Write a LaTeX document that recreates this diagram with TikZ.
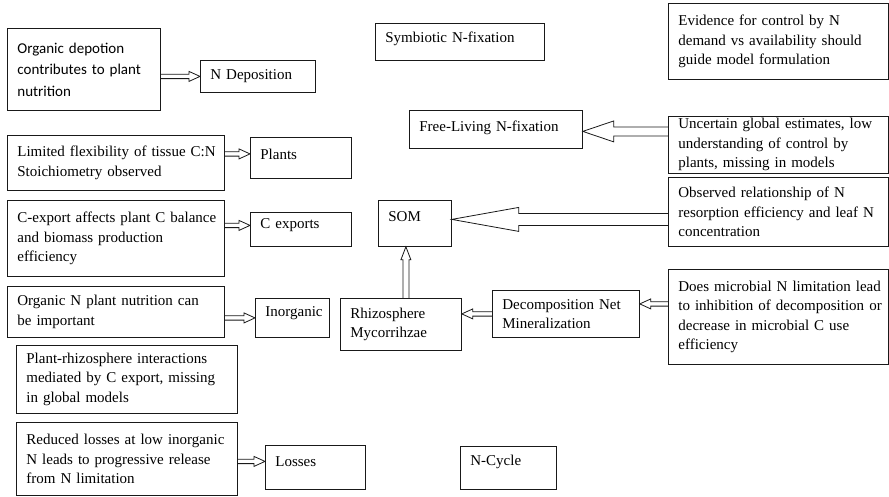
\documentclass[tikz,border=0pt]{standalone}
\usepackage{fontspec}
\setmainfont{Liberation Serif}
\newfontfamily\calibrisub{Carlito}
\usetikzlibrary{calc}
\hyphenpenalty=10000

\begin{document}
\begin{tikzpicture}[
        x=1pt, y=-1pt,
        % Estilo das caixas
        box style/.style = {
            draw=black!90,
            line width=0.8pt,
            rectangle,
            anchor=north west,
            align=left,
            inner xsep=10pt,
            inner ysep=1pt,
            font=\fontsize{15}{19.5}\selectfont,
            execute at begin node={\rightskip=-9pt plus 1fil}
        },
        % Caixa com fonte sem serifa
        sans box/.style = {
            box style,
            font=\calibrisub\fontsize{15}{21.5}\selectfont
        },
        % Seta vazada: meia haste, meia ponta, comprimento da ponta
        hollow arrow/.style n args = {3}{
            draw=black!90,
            line width=0.8pt,
            to path = {
                ($(\tikztostart)!#1!90:(\tikztotarget)$)
                -- ($(\tikztotarget)!#3!(\tikztostart)!#1!90:(\tikztotarget)$)
                -- ($(\tikztotarget)!#3!(\tikztostart)!#2!90:(\tikztotarget)$)
                -- (\tikztotarget)
                -- ($(\tikztotarget)!#3!(\tikztostart)!#2!-90:(\tikztotarget)$)
                -- ($(\tikztotarget)!#3!(\tikztostart)!#1!-90:(\tikztotarget)$)
                -- ($(\tikztostart)!#1!-90:(\tikztotarget)$)
            }
        }
    ]
    \tikzset{
        small arrow/.style={hollow arrow={2.2pt}{5pt}{11pt}}
    }
    \useasboundingbox (0,0) rectangle (889,496);

    % Coluna da esquerda
    \node[sans box, text width=133pt, minimum height=82pt] (depo) at (7,28) {Organic depotion\\contributes to plant\\nutrition};
    \node[box style, text width=197pt, minimum height=55pt] (lim) at (7,135) {Limited flexibility of tissue C:N\\Stoichiometry observed};
    \node[box style, text width=197pt, minimum height=76pt] (cexp) at (7,200) {C-export affects plant C balance\\and biomass production\\efficiency};
    \node[box style, text width=197pt, minimum height=51pt] (orgn) at (7,286) {Organic N plant nutrition can\\be important};
    \node[box style, text width=201pt, minimum height=68pt] (plrh) at (16,345) {Plant-rhizosphere interactions\\mediated by C export, missing\\in global models};
    \node[box style, text width=201pt, minimum height=73pt] (red) at (16,422) {Reduced losses at low inorganic\\N leads to progressive release\\from N limitation};

    % Caixas do ciclo
    \node[box style, text width=95pt, minimum height=32pt] (ndep) at (200,60) {N Deposition};
    \node[box style, text width=81pt, minimum height=41pt, text depth=7pt] (plants) at (250,137) {Plants};
    \node[box style, text width=81pt, minimum height=34pt, text depth=11pt] (cexports) at (250,212) {C exports};
    \node[box style, text width=54pt, minimum height=39pt, text depth=12pt] (inorg) at (255,298) {Inorganic};
    \node[box style, text width=101pt, minimum height=52pt] (rhizo) at (340,298) {Rhizosphere\\Mycorrihzae};
    \node[box style, text width=53pt, minimum height=46pt, text depth=14pt] (som) at (378,200) {SOM};
    \node[box style, text width=149pt, minimum height=37pt, text depth=10pt] (symb) at (375,23) {Symbiotic N-fixation};
    \node[box style, text width=153pt, minimum height=38pt, text depth=7pt] (free) at (409,110) {Free-Living N-fixation};
    \node[box style, text width=127pt, minimum height=47pt] (decomp) at (492,290) {Decomposition Net\\Mineralization};
    \node[box style, text width=80pt, minimum height=44pt, text depth=12pt] (losses) at (265,445) {Losses};
    \node[box style, text width=76pt, minimum height=43pt, text depth=16pt] (ncyc) at (460,446) {N-Cycle};

    % Coluna da direita
    \node[box style, text width=200pt, minimum height=76pt] (evid) at (668,3) {Evidence for control by N\\demand vs availability should\\guide model formulation};
    \node[box style, text width=200pt, minimum height=57pt] (unc) at (668,116) {Uncertain global estimates, low\\understanding of control by\\plants, missing in models};
    \node[box style, text width=200pt, minimum height=69pt] (obs) at (668,177) {Observed relationship of N\\resorption efficiency and leaf N\\concentration};
    \node[box style, text width=200pt, minimum height=95pt] (micro) at (668,269) {Does microbial N limitation lead\\to inhibition of decomposition or\\decrease in microbial C use\\efficiency};

    % Pontas das setas
    \coordinate (ndep-in) at (ndep.west);
    \coordinate (plants-in) at ([yshift=4pt]plants.west);
    \coordinate (cexports-in) at ([yshift=4pt]cexports.west);
    \coordinate (inorg-in) at (inorg.west);
    \coordinate (losses-in) at ([yshift=6pt]losses.west);
    \coordinate (rhizo-in) at (decomp.west -| rhizo.east);
    \coordinate (decomp-in) at ([yshift=10pt]decomp.east);
    \coordinate (som-in) at ([xshift=5pt]rhizo.north |- som.south);
    \coordinate (free-in) at ([yshift=-2pt]free.east);
    \coordinate (som-east-in) at ([yshift=4pt]som.east);

    % Setas
    \draw[small arrow] (depo.east |- ndep-in) to (ndep-in);
    \draw[small arrow] (lim.east |- plants-in) to (plants-in);
    \draw[small arrow] (cexp.east |- cexports-in) to (cexports-in);
    \draw[small arrow] (orgn.east |- inorg-in) to (inorg-in);
    \draw[small arrow] (red.east |- losses-in) to (losses-in);
    \draw[small arrow] (decomp.west) to (rhizo-in);
    \draw[small arrow] (micro.west |- decomp-in) to (decomp-in);
    \draw[hollow arrow={3pt}{5pt}{13pt}] ([xshift=5pt]rhizo.north) to (som-in);
    \draw[hollow arrow={4.5pt}{10.5pt}{31pt}] (unc.west |- free-in) to (free-in);
    \draw[hollow arrow={6pt}{12pt}{67pt}] (obs.west |- som-east-in) to (som-east-in);
\end{tikzpicture}
\end{document}
